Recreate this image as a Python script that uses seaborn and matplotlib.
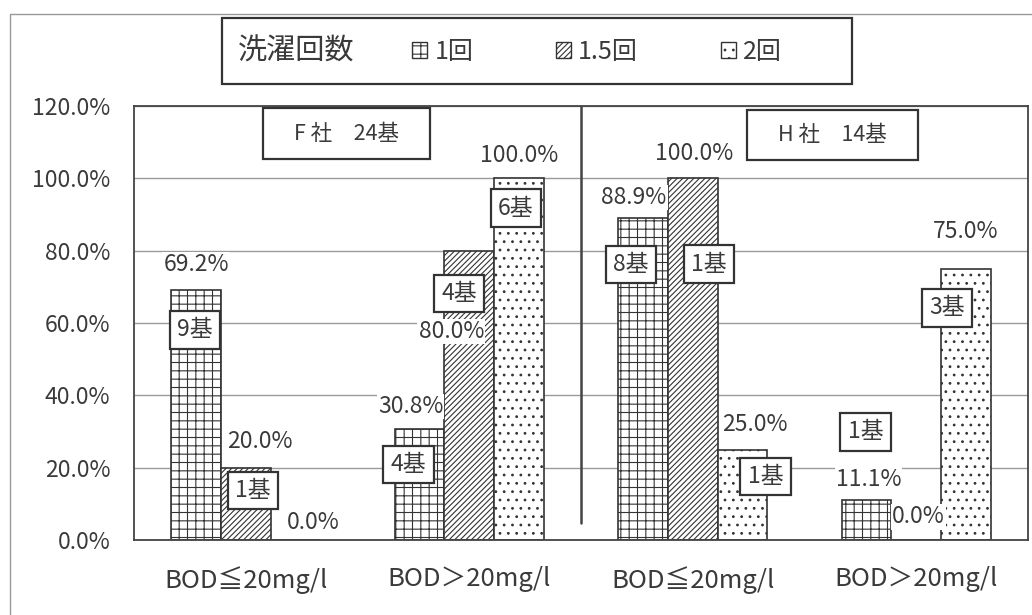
import numpy as np
import pandas as pd
import matplotlib
matplotlib.use('Agg')
import matplotlib.pyplot as plt
import matplotlib.patches as mpatches
import seaborn as sns

# ---------------- data ----------------
companies = ['F社', 'F社', 'H社', 'H社']
conditions = ['BOD≦20mg/l', 'BOD＞20mg/l', 'BOD≦20mg/l', 'BOD＞20mg/l']
wash_counts = ['1回', '1.5回', '2回']
pct_1 = [69.2, 30.8, 88.9, 11.1]
pct_15 = [20.0, 80.0, 100.0, 0.0]
pct_2 = [0.0, 100.0, 25.0, 75.0]
units_1 = [9, 4, 8, 1]
units_15 = [1, 4, 1, 0]
units_2 = [0, 6, 1, 3]
company_titles = ['F 社　24基', 'H 社　14基']
legend_title = '洗濯回数'
y_ticks = [0, 20, 40, 60, 80, 100, 120]

# ---------------- style ----------------
sns.set_style('white')
plt.rcParams['font.family'] = ['Noto Sans CJK JP', 'DejaVu Sans']
plt.rcParams['hatch.linewidth'] = 0.8
TXT = '#3a3a3a'
EDGE = '#333333'
FS = 16.5

keys = [c + '|' + k for c, k in zip(companies, conditions)]
rows = []
for w, pcts, units in zip(wash_counts, [pct_1, pct_15, pct_2], [units_1, units_15, units_2]):
    for key, p, u in zip(keys, pcts, units):
        rows.append({'key': key, 'wash': w, 'pct': p, 'units': u})
df = pd.DataFrame(rows)

fig = plt.figure(figsize=(10.32, 6.15), dpi=100)
ax = fig.add_axes([0.1298, 0.122, 0.8663, 0.7057])

sns.barplot(data=df, x='key', y='pct', hue='wash', order=keys, hue_order=wash_counts,
            width=0.667, palette={w: 'white' for w in wash_counts}, saturation=1,
            edgecolor=EDGE, linewidth=1.2, errorbar=None, legend=False, ax=ax)

hatches = ['++', '//////', '..']
for cont, h in zip(ax.containers, hatches):
    for bar in cont:
        bar.set_hatch(h)
        bar.set_zorder(2)

ax.set_xlim(-0.5, 3.5)
ax.set_ylim(0, 120)
ax.set_yticks(y_ticks)
ax.set_yticklabels([f'{v:.1f}%' for v in y_ticks], fontsize=FS, color=TXT)
ax.set_xticks(range(len(keys)))
ax.set_xticklabels(conditions, fontsize=18.5, color=TXT)
ax.tick_params(axis='y', length=0, pad=17)
ax.tick_params(axis='x', length=0, pad=19)
ax.set_xticks([0.5, 1.5, 2.5], minor=True)
ax.tick_params(axis='x', which='minor', direction='in', length=5, color='#555')
ax.set_xlabel('')
ax.set_ylabel('')
ax.set_axisbelow(True)
ax.yaxis.grid(True, color='#9a9a9a', linewidth=1.0)
for s in ax.spines.values():
    s.set_color('#444444')
    s.set_linewidth(1.3)

# divider between companies
ax.axvline(1.5, ymin=0.04, ymax=1.0, color='#444444', linewidth=1.8, zorder=3)

# value labels and unit-count boxes
val_offsets = [
    [(0, 25), (-9, 22), (-9, 21), (2, 20)],
    [(14, 26), (-18, -81), (1, 25), (2, 23)],
    [(18, 17), (0, 23), (12, 25), (0, 37)],
]
box_offsets = [
    [(-1, -40), (-11, -36), (-12, -46), (-1, 68)],
    [(7, -23), (-10, -43), (16, -86), (0, 0)],
    [(0, 0), (-3, -30), (23, -27), (-19, -39)],
]
unit_lists = [units_1, units_15, units_2]
for hi, cont in enumerate(ax.containers):
    for gi, bar in enumerate(cont):
        cx = bar.get_x() + bar.get_width() / 2
        top = bar.get_height()
        dx, dy = val_offsets[hi][gi]
        ax.annotate(f'{top:.1f}%', xy=(cx, top), xytext=(dx, dy), textcoords='offset pixels',
                    ha='center', va='center', fontsize=FS, color=TXT, zorder=5,
                    bbox=dict(boxstyle='square,pad=0.05', fc='white', ec='none'))
        u = unit_lists[hi][gi]
        if u > 0:
            bx, by = box_offsets[hi][gi]
            ax.annotate(f'{u}基', xy=(cx, top), xytext=(bx, by), textcoords='offset pixels',
                        ha='center', va='center', fontsize=FS, color=TXT, zorder=6,
                        bbox=dict(boxstyle='square,pad=0.32', fc='white', ec=EDGE, lw=1.6))

# company title boxes
title_boxes = [(0.077, 105.3, 0.747, 14.1), (2.243, 105.1, 0.765, 13.8)]
for (x0, y0, w, h), t in zip(title_boxes, company_titles):
    ax.add_patch(mpatches.Rectangle((x0, y0), w, h, fc='white', ec=EDGE, lw=1.6, zorder=6))
    ax.text(x0 + w / 2, y0 + h / 2, t, ha='center', va='center', fontsize=15.5, color=TXT, zorder=7)

# legend box
fig.patches.append(mpatches.Rectangle((0.215, 0.8634), 0.6106, 0.1073, transform=fig.transFigure,
                                      fc='white', ec=EDGE, lw=1.6, zorder=1))
fig.text(0.2868, 0.9154, legend_title, ha='center', va='center', fontsize=21, color=TXT)
handles = [mpatches.Patch(facecolor='white', edgecolor=EDGE, hatch=h, lw=1.0) for h in hatches]
leg = fig.legend(handles, wash_counts, ncol=3, frameon=False, loc='center left',
                 bbox_to_anchor=(0.399, 0.9154), fontsize=18, handlelength=0.6, handleheight=0.6,
                 handletextpad=0.3, columnspacing=3.3, borderpad=0, borderaxespad=0)
for t in leg.get_texts():
    t.set_color(TXT)

# outer frame (top and left visible)
fig.patches.append(mpatches.Rectangle((10 / 1032, -0.05), 1.2, 0.9772 + 0.05, transform=fig.transFigure,
                                      fc='none', ec='#999999', lw=1.0, zorder=0))

fig.savefig('out.png', dpi=100)
